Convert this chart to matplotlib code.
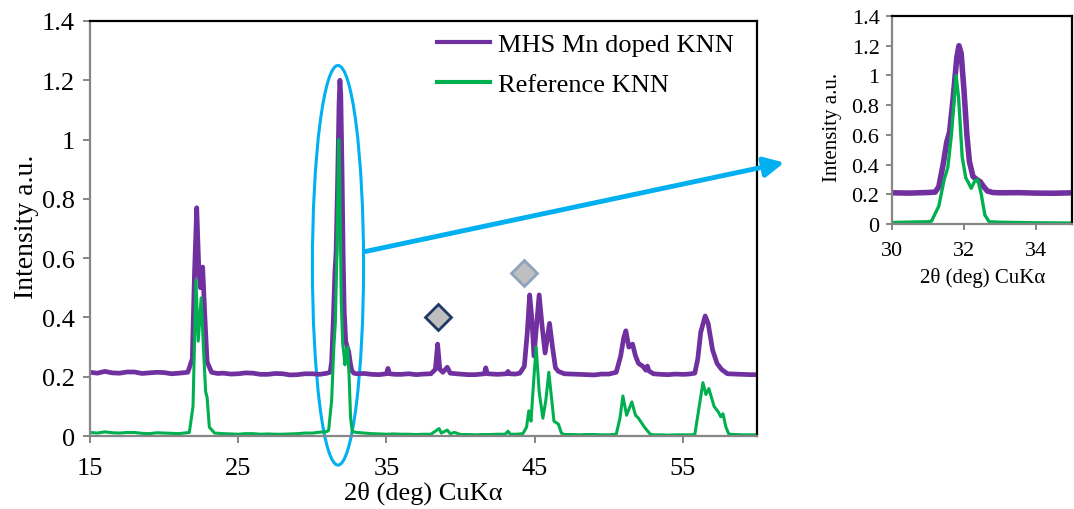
import matplotlib
matplotlib.use('Agg')
import matplotlib.pyplot as plt
from matplotlib.patches import Ellipse, FancyArrowPatch
from matplotlib.ticker import FuncFormatter, MultipleLocator

plt.rcParams['font.family'] = ['Liberation Serif', 'DejaVu Serif']

# ---- data ----
mhs_x = [15, 15.5, 16, 16.5, 17, 17.5, 18, 18.5, 19, 19.5, 20, 20.5, 21, 21.6, 21.9, 22.05, 22.2, 22.35,
         22.45, 22.6, 22.75, 22.9, 23.2, 23.6, 24, 24.5, 25, 25.5, 26, 26.5, 27, 27.5, 28, 28.5, 29,
         29.5, 30, 30.5, 31, 31.2, 31.3, 31.42, 31.52, 31.6, 31.7, 31.8, 31.86, 31.92, 32.0, 32.08,
         32.15, 32.25, 32.35, 32.45, 32.55, 32.65, 32.8,
         33, 33.5, 34, 34.5, 35, 35.1, 35.2, 35.6, 36, 36.5, 37, 37.5, 38, 38.3, 38.45, 38.6, 38.8,
         39.1, 39.3, 39.7, 40, 40.5, 41, 41.6, 41.7, 41.8, 42.2, 42.5, 43.1, 43.2, 43.3, 43.7, 44.0,
         44.3, 44.5, 44.66, 44.8, 44.95, 45.1, 45.3, 45.5, 45.7, 45.85, 46.0, 46.2, 46.4, 46.6, 47,
         47.5, 48, 48.5, 49, 49.5, 50, 50.5, 50.8, 51.0, 51.15, 51.35, 51.6, 51.8, 52.0, 52.3, 52.5,
         52.6, 52.7, 53, 53.5, 54, 54.5, 55, 55.4, 55.8, 56.0, 56.2, 56.5, 56.7, 57.0, 57.3, 57.6,
         58.0, 58.5, 59, 59.5, 60]
mhs_y = [0.215, 0.212, 0.218, 0.213, 0.212, 0.216, 0.216, 0.211, 0.213, 0.215, 0.214, 0.21, 0.212,
         0.215, 0.26, 0.55, 0.77, 0.55, 0.50, 0.57, 0.40, 0.25, 0.215, 0.211, 0.212, 0.209, 0.21,
         0.213, 0.212, 0.208, 0.208, 0.211, 0.21, 0.206, 0.207, 0.21, 0.21, 0.208, 0.212, 0.215,
         0.25, 0.40, 0.55, 0.62, 0.85, 1.12, 1.2, 1.15, 0.9, 0.6,
         0.42, 0.32, 0.30, 0.285, 0.25, 0.222, 0.212,
         0.21, 0.211, 0.208, 0.207,
         0.21, 0.228, 0.21, 0.208, 0.208, 0.21, 0.207, 0.209, 0.21, 0.225, 0.31, 0.225, 0.215,
         0.232, 0.212, 0.21, 0.209, 0.207, 0.207, 0.21, 0.23, 0.21, 0.209, 0.208, 0.21, 0.218, 0.21,
         0.209, 0.212, 0.235, 0.35, 0.476, 0.40, 0.27, 0.36, 0.476, 0.37, 0.28, 0.33, 0.38, 0.30,
         0.23, 0.218, 0.21, 0.209, 0.208, 0.207, 0.206, 0.209, 0.209, 0.215, 0.27, 0.33, 0.355,
         0.30, 0.31, 0.27, 0.245, 0.235, 0.222, 0.236, 0.22, 0.21, 0.208, 0.207, 0.209, 0.208,
         0.209, 0.212, 0.26, 0.35, 0.405, 0.38, 0.29, 0.245, 0.225, 0.21, 0.209, 0.208, 0.207, 0.207]

ref_x = [15, 15.5, 16, 16.5, 17, 17.5, 18, 18.5, 19, 19.5, 20, 20.5, 21, 21.7, 21.95, 22.15, 22.3,
         22.5, 22.65, 22.8, 22.9, 23.05, 23.4, 24, 24.5, 25, 25.5, 26, 26.5, 27, 27.5, 28, 28.5,
         29, 29.5, 30, 30.5, 31, 31.1, 31.3, 31.45, 31.55, 31.65, 31.78, 31.85, 31.95, 32.05, 32.12,
         32.2, 32.3, 32.38, 32.48, 32.58, 32.7,
         33, 33.5, 34, 34.5, 35, 35.5, 36, 36.5, 37, 37.5, 38, 38.4, 38.55, 38.7, 39.1, 39.3, 39.6,
         40, 40.5, 41, 41.5, 42, 42.5, 43, 43.2, 43.35, 43.8, 44.2, 44.45, 44.6, 44.75, 44.95, 45.1,
         45.3, 45.55, 45.75, 45.95, 46.15, 46.3, 46.45, 46.6, 46.8, 47, 47.5, 48, 48.5, 49, 49.5, 50,
         50.5, 50.75, 50.95, 51.2, 51.55, 51.8, 52.0, 52.4, 52.8, 53, 53.5, 54, 54.5, 55, 55.5,
         55.8, 56.1, 56.35, 56.55, 56.75, 57.1, 57.4, 57.55, 57.7, 57.9, 58.1, 58.5, 59, 59.5, 60]
ref_y = [0.012, 0.01, 0.014, 0.011, 0.01, 0.012, 0.012, 0.009, 0.008, 0.011, 0.01, 0.009, 0.008,
         0.012, 0.1, 0.527, 0.32, 0.466, 0.3, 0.15, 0.13, 0.03, 0.01, 0.008, 0.007, 0.006, 0.008,
         0.008, 0.006, 0.007, 0.006, 0.006, 0.007, 0.008, 0.01, 0.01, 0.013, 0.015, 0.02, 0.12,
         0.30, 0.38, 0.6, 1.0, 0.85, 0.45, 0.31, 0.28,
         0.24, 0.29, 0.30, 0.2, 0.06, 0.015,
         0.012, 0.01, 0.008, 0.007, 0.006, 0.007, 0.006,
         0.006, 0.005, 0.006, 0.006, 0.02, 0.025, 0.01, 0.02, 0.008, 0.012, 0.005, 0.005, 0.004,
         0.005, 0.005, 0.006, 0.006, 0.016, 0.006, 0.006, 0.008, 0.03, 0.085, 0.05, 0.2, 0.30, 0.15,
         0.06, 0.12, 0.215, 0.12, 0.05, 0.045, 0.04, 0.01, 0.005, 0.005, 0.004, 0.005, 0.005, 0.004,
         0.004, 0.006, 0.06, 0.135, 0.07, 0.115, 0.07, 0.06, 0.03, 0.006, 0.004, 0.004, 0.003,
         0.004, 0.004, 0.004, 0.005, 0.1, 0.18, 0.14, 0.16, 0.1, 0.08, 0.065, 0.075, 0.03, 0.006,
         0.005, 0.004, 0.004, 0.004]

marker_x = [38.5, 44.25]
marker_y = [0.40, 0.55]

series_labels = ['MHS Mn doped KNN', 'Reference KNN']
x_label = '2θ (deg) CuKα'
y_label = 'Intensity a.u.'

PURPLE = '#7030A0'
GREEN = '#00B050'
CYAN = '#00B0F0'
GRAY = '#868686'

fmt = FuncFormatter(lambda v, p: '%g' % round(v, 2))


def style_axes(ax):
    for s in ['left', 'bottom']:
        ax.spines[s].set_color(GRAY)
        ax.spines[s].set_linewidth(1.6)
    for s in ['top', 'right']:
        ax.spines[s].set_color('black')
        ax.spines[s].set_linewidth(1.6)
    ax.tick_params(axis='both', direction='out', color=GRAY, width=1.4, length=5)
    ax.tick_params(axis='x', bottom=True, top=False)
    ax.tick_params(axis='y', left=True, right=False)
    ax.yaxis.set_major_formatter(fmt)
    ax.xaxis.set_major_formatter(fmt)


fig = plt.figure(figsize=(10.74, 5.10), dpi=100)

# ---- main axes ----
ax = fig.add_axes([0.0838, 0.1431, 0.6211, 0.8138])
ax.plot(mhs_x, mhs_y, color=PURPLE, lw=3.4, solid_joinstyle='round', label=series_labels[0])
ax.plot(ref_x, ref_y, color=GREEN, lw=2.2, solid_joinstyle='round', label=series_labels[1])
ax.set_xlim(15, 60)
ax.set_ylim(0, 1.4)
ax.set_xticks([15, 25, 35, 45, 55])
ax.yaxis.set_major_locator(MultipleLocator(0.2))
style_axes(ax)
ax.tick_params(axis='both', labelsize=19, pad=6)
ax.tick_params(axis='x', pad=10)
ax.set_xlabel(x_label, fontsize=19)
ax.set_ylabel(y_label, fontsize=20)
ax.xaxis.set_label_coords(0.499, -0.108)
ax.yaxis.set_label_coords(-0.076, 0.506)

# diamonds
ax.plot(marker_x[0], marker_y[0], marker='D', ms=13, mfc='#BFBFBF', mec='#1F3864', mew=2, ls='none')
ax.plot(marker_x[1], marker_y[1], marker='D', ms=13, mfc='#BFBFBF', mec='#8EA3BE', mew=2, ls='none')

leg = ax.legend(loc='upper left', bbox_to_anchor=(0.52, 0.972), frameon=False, fontsize=19,
                handlelength=2.0, handletextpad=0.3, labelspacing=0.62, borderaxespad=0, borderpad=0)
for ln in leg.get_lines():
    ln.set_linewidth(3.0)

# ellipse highlight
ell = Ellipse((31.73, 0.576), 3.45, 1.348, fill=False, edgecolor=CYAN, lw=2.2, clip_on=False)
ax.add_patch(ell)

# arrow to inset
arr = FancyArrowPatch((363 / 1074, 1 - 253 / 510), (787 / 1074, 1 - 163 / 510),
                      transform=fig.transFigure, arrowstyle='-|>,head_length=6,head_width=3',
                      color=CYAN, lw=3.5, mutation_scale=2)
fig.add_artist(arr)

# ---- inset ----
axi = fig.add_axes([892 / 1074, 1 - 225 / 510, 180 / 1074, 208 / 510])
axi.plot(mhs_x, mhs_y, color=PURPLE, lw=4.0, solid_joinstyle='round')
axi.plot(ref_x, ref_y, color=GREEN, lw=2.4, solid_joinstyle='round')
axi.set_xlim(30, 35)
axi.set_ylim(0, 1.4)
axi.set_xticks([30, 32, 34])
axi.yaxis.set_major_locator(MultipleLocator(0.2))
style_axes(axi)
axi.tick_params(axis='both', labelsize=16, pad=5, length=4)
axi.tick_params(axis='x', pad=8)
axi.set_xlabel(x_label, fontsize=15)
axi.set_ylabel(y_label, fontsize=15)
axi.xaxis.set_label_coords(0.505, -0.205)
axi.yaxis.set_label_coords(-0.275, 0.47)

fig.savefig('out.png', dpi=100)
